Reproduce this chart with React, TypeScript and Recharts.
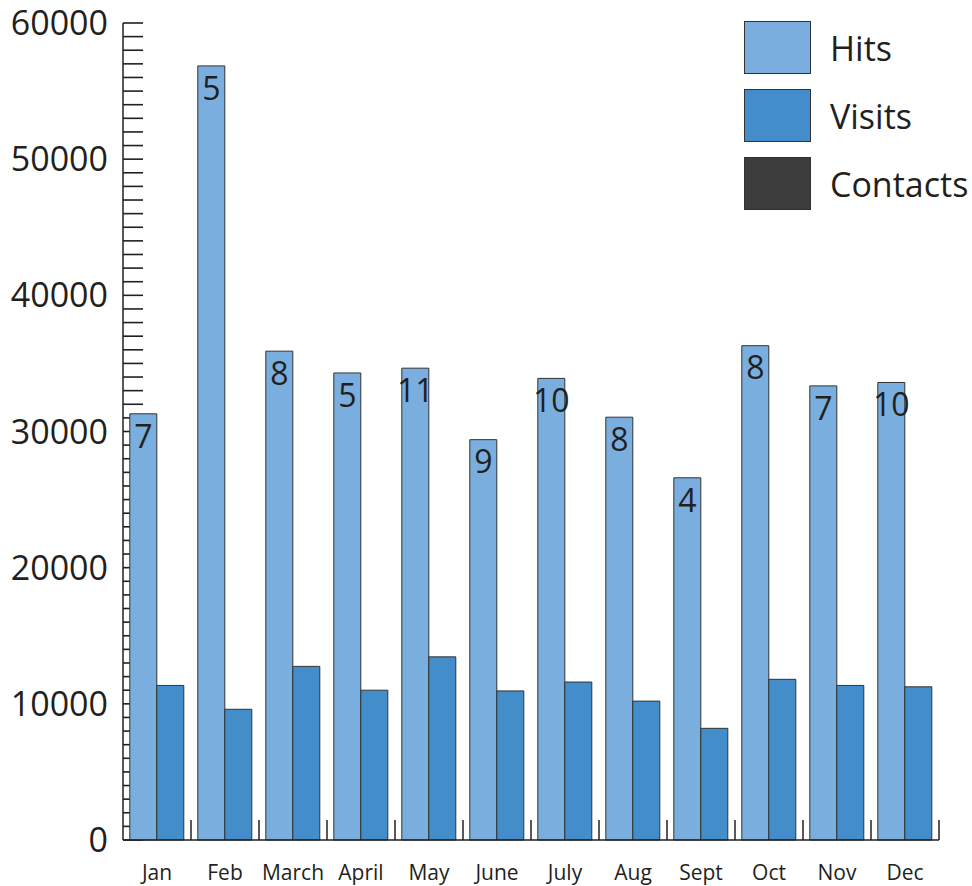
import { BarChart, Bar, XAxis, YAxis, CartesianGrid, LabelList, Legend } from "recharts";

const months = ["Jan", "Feb", "March", "April", "May", "June", "July", "Aug", "Sept", "Oct", "Nov", "Dec"];
const hits = [31300, 56850, 35900, 34300, 34650, 29400, 33900, 31050, 26600, 36300, 33350, 33600];
const visits = [11350, 9600, 12750, 11000, 13450, 10950, 11600, 10200, 8200, 11800, 11350, 11250];
const contacts = [7, 5, 8, 5, 11, 9, 10, 8, 4, 8, 7, 10];

const yTicks = Array.from({ length: 61 }, (_, i) => i * 1000);

const legendItems = [
  { name: "Hits", color: "#7aaedf" },
  { name: "Visits", color: "#438dcb" },
  { name: "Contacts", color: "#3c3c3c" },
];

const INK = "#231f20";
const FONT = "'Open Sans', 'Noto Sans', sans-serif";

const data = months.map((month, i) => ({
  month,
  hits: hits[i],
  visits: visits[i],
  contacts: contacts[i],
}));

const YTick = ({ x, y, payload }: any) => {
  if (payload.value % 10000 !== 0) return null;
  return (
    <text x={x - 15} y={y + 12} textAnchor="end" fontSize={34} fill={INK} fontFamily={FONT}>
      {payload.value}
    </text>
  );
};

// month label plus a short upward tick at the right edge of each category band
const XTick = ({ x, y, payload, width, visibleTicksCount }: any) => {
  const half = width / visibleTicksCount / 2;
  return (
    <g>
      <line x1={x + half} x2={x + half} y1={y} y2={y - 20} stroke={INK} strokeWidth={1.5} />
      <text x={x} y={y + 40} textAnchor="middle" fontSize={21} fill={INK} fontFamily={FONT}>
        {payload.value}
      </text>
    </g>
  );
};

const tickMark = (props: any) => (
  <line
    key={props.key}
    x1={props.x1}
    x2={props.x1 + 20}
    y1={props.y1}
    y2={props.y2}
    stroke={INK}
    strokeWidth={1.6}
  />
);

const LegendBox = () => (
  <div style={{ fontFamily: FONT }}>
    {legendItems.map((item) => (
      <div key={item.name} style={{ display: "flex", alignItems: "center", height: 68, whiteSpace: "nowrap" }}>
        <div
          style={{
            width: 65,
            height: 51,
            flexShrink: 0,
            background: item.color,
            border: "1px solid #333",
            marginTop: -15,
          }}
        />
        <span style={{ marginLeft: 19, fontSize: 34, color: INK, marginTop: -15 }}>{item.name}</span>
      </div>
    ))}
  </div>
);

export default function App() {
  return (
    <div style={{ position: "absolute", left: 0, top: 0 }}>
      <BarChart
        width={972}
        height={886}
        data={data}
        margin={{ top: 23, right: 33, left: 0, bottom: 0 }}
        barCategoryGap="10%"
        barGap={0}
      >
        <CartesianGrid vertical={false} horizontal={tickMark} />
        <XAxis
          dataKey="month"
          height={46}
          tick={<XTick />}
          interval={0}
          tickLine={false}
          tickSize={0}
          tickMargin={0}
          axisLine={{ stroke: INK, strokeWidth: 1.5 }}
        />
        <YAxis
          width={123}
          domain={[0, 60000]}
          ticks={yTicks}
          interval={0}
          tick={<YTick />}
          tickLine={false}
          tickSize={0}
          tickMargin={0}
          axisLine={{ stroke: INK, strokeWidth: 1.5 }}
        />
        <Legend
          layout="horizontal"
          verticalAlign="middle"
          align="center"
          content={<LegendBox />}
          wrapperStyle={{ position: "absolute", left: 744, top: 21, width: 228 }}
        />
        <Bar dataKey="hits" name="Hits" fill="#7aaedf" stroke="#333" strokeWidth={1} isAnimationActive={false}>
          <LabelList
            dataKey="contacts"
            position="insideTop"
            offset={11}
            fontSize={32}
            fill={INK}
            fontFamily={FONT}
          />
        </Bar>
        <Bar dataKey="visits" name="Visits" fill="#438dcb" stroke="#333" strokeWidth={1} isAnimationActive={false} />
      </BarChart>
    </div>
  );
}
